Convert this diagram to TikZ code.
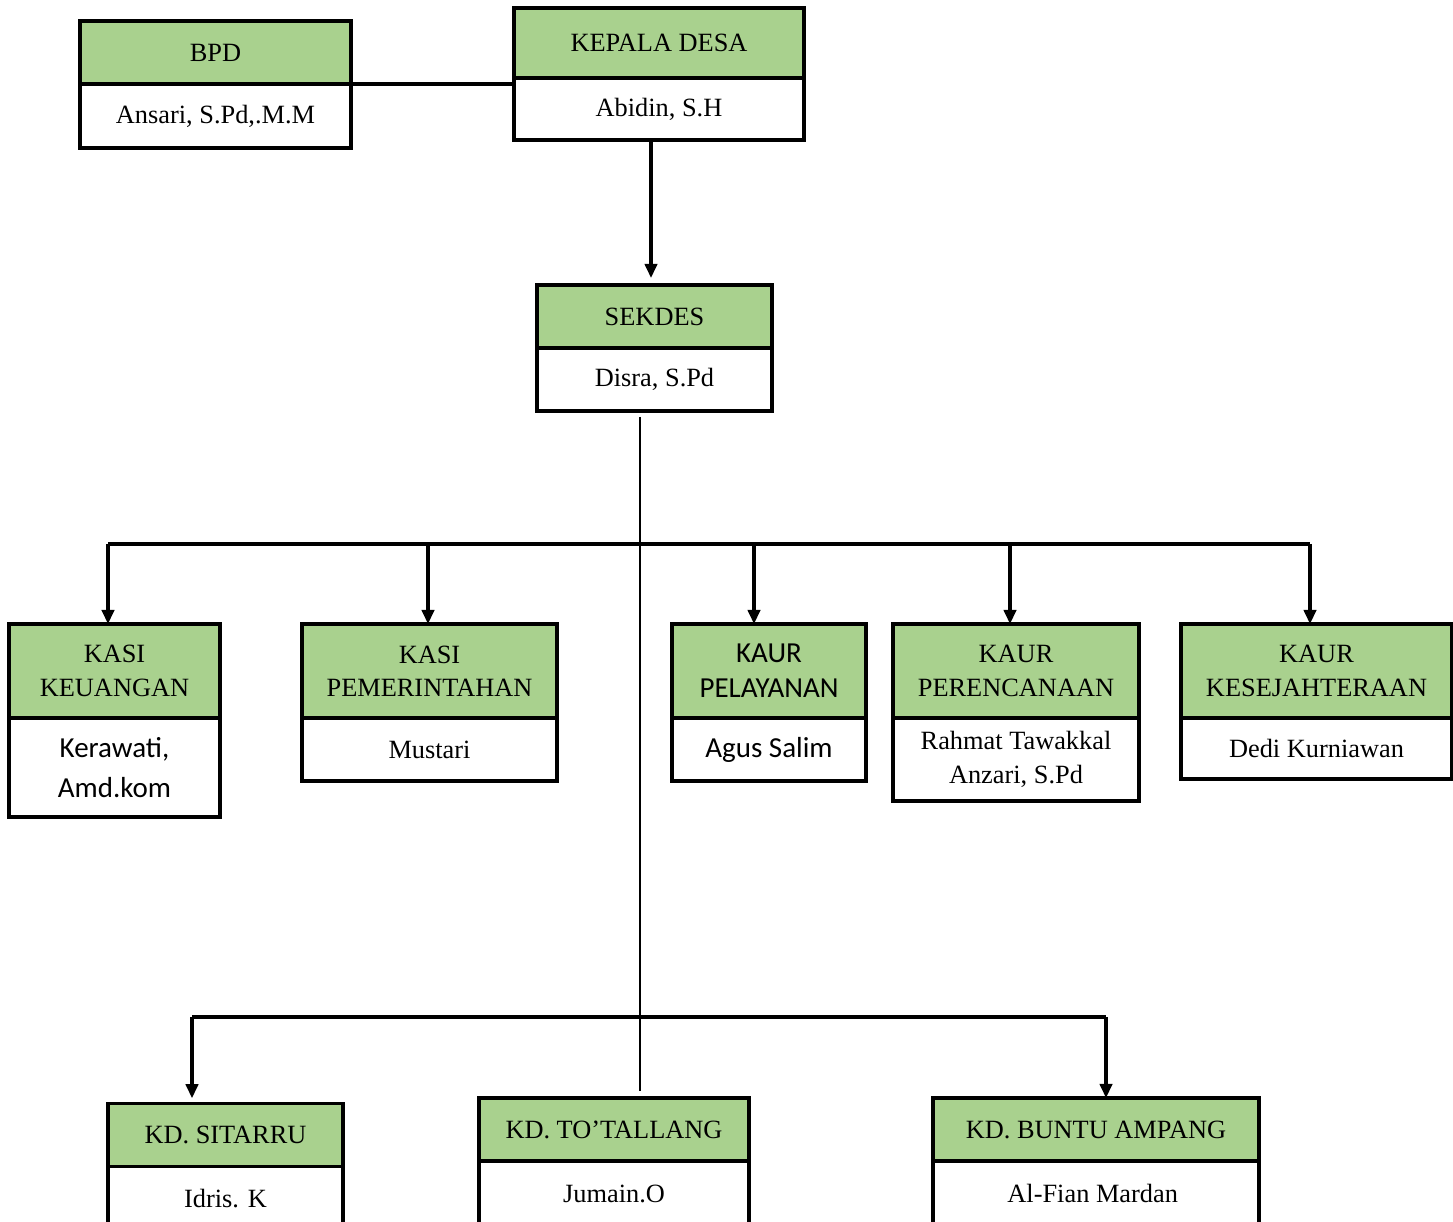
\documentclass[tikz,border=0pt]{standalone}
\usepackage{fontspec}
\setmainfont{Liberation Serif}
\newfontfamily\calibrifont{Carlito}
\usepackage{tikz}
\usetikzlibrary{positioning}
\usetikzlibrary{arrows.meta}
\definecolor{headgreen}{HTML}{A9D18E}

\begin{document}
\begin{tikzpicture}[x=0.02cm, y=-0.02cm,
     rmtext/.style={font=\fontsize{15pt}{19pt}\selectfont},
     cbtext/.style={font=\calibrifont\fontsize{16.5pt}{20pt}\selectfont},
     headbox/.style={rectangle, draw, line width=2pt, fill=headgreen, outer sep=0pt, inner sep=0pt, align=center},  % green title part of a box
     namebox/.style={rectangle, draw, line width=2pt, fill=white, outer sep=0pt, inner sep=0pt, align=center},
     conn/.style={line width=1.8pt},
     arr/.style={line width=1.8pt, -{Triangle[length=8pt,width=7pt]}}
 ]
 \useasboundingbox (0,0) rectangle (1453,1222);
 \clip (0,0) rectangle (1453,1222);
 \fill[white] (0,0) rectangle (1453,1222);

 % top row
 \node[headbox, rmtext, minimum width=5.42cm, minimum height=1.26cm] (bpd) at (215.5,52.5) {BPD};
 \node[namebox, rmtext, minimum width=5.42cm, minimum height=1.28cm, below=0mm of bpd] (bpdname) {Ansari, S.Pd,.M.M};

 \node[headbox, rmtext, minimum width=5.8cm, minimum height=1.4cm] (kades) at (659,43) {KEPALA DESA};
 \node[namebox, rmtext, minimum width=5.8cm, minimum height=1.24cm, below=0mm of kades] (kadesname) {Abidin, S.H};

 \node[headbox, rmtext, minimum width=4.7cm, minimum height=1.26cm] (sekdes) at (654.5,316.5) {SEKDES};
 \node[namebox, rmtext, minimum width=4.7cm, minimum height=1.26cm, below=0mm of sekdes] (sekdesname) {Disra, S.Pd};

 \draw[conn] (bpd.south east) -- (bpd.south east -| kades.west);
 \draw[arr, shorten >=4pt] ([xshift=-0.07cm]kadesname.south -| sekdes.north) -- ([xshift=-0.07cm]sekdes.north);

 % the trunk and the two bus lines
 \coordinate (trunktop) at (640,417);
 \coordinate (trunkbot) at (640,1091);
 \coordinate (bus) at (640,544);
 \coordinate (lowbusL) at (192,1017);
 \coordinate (lowbusR) at (1106,1017);
 \draw[line width=1.3pt] (trunktop) -- (trunkbot);

 \foreach \nm/\cx/\bw/\ax/\head/\hf/\who/\nf/\nh in {
     keu/114.5/4.22/-0.13/{KASI\\KEUANGAN}/rmtext/{Kerawati,\\[3pt]Amd.kom}/cbtext/1.98,
     pem/429.5/5.1/-0.03/{KASI\\PEMERINTAHAN}/rmtext/{Mustari}/rmtext/1.26,
     pel/769/3.88/-0.3/{KAUR\\PELAYANAN}/cbtext/{Agus Salim}/cbtext/1.26,
     per/1016/4.92/-0.12/{KAUR\\PERENCANAAN}/rmtext/{Rahmat Tawakkal\\Anzari, S.Pd}/rmtext/1.66,
     kes/1316.5/5.42/-0.13/{KAUR\\KESEJAHTERAAN}/rmtext/{Dedi Kurniawan}/rmtext/1.22
 }{
     \node[headbox, \hf, minimum width=\bw cm, minimum height=1.88cm] (\nm) at (\cx,671) {\head};
     \node[namebox, \nf, minimum width=\bw cm, minimum height=\nh cm, below=0mm of \nm] (\nm name) {\who};
     \draw[arr] ([xshift=\ax cm]bus -| \nm.north) -- ([xshift=\ax cm]\nm.north);
 }
 \draw[conn] ([xshift=-0.13cm]bus -| keu.north) -- ([xshift=-0.13cm]bus -| kes.north);

 % bottom row, cut off by the page
 \foreach \nm/\cx/\bw/\cy/\head/\who in {
     sit/225.5/4.7/1135/{KD. SITARRU}/{Idris. K},
     tot/614/5.4/1129.5/{KD. TO’TALLANG}/{Jumain.O},
     bun/1096/6.52/1129.5/{KD. BUNTU AMPANG}/{Al-Fian Mardan}
 }{
     \node[headbox, rmtext, minimum width=\bw cm, minimum height=1.26cm] (\nm) at (\cx,\cy) {\head};
     \node[namebox, rmtext, minimum width=\bw cm, minimum height=1.3cm, below=0mm of \nm] (\nm name) {\who};
 }
 \draw[conn] (lowbusL) -- (lowbusR);
 \draw[arr, shorten >=3pt] (lowbusL) -- (lowbusL |- sit.north);
 \draw[arr] (lowbusR) -- (lowbusR |- bun.north);
\end{tikzpicture}
\end{document}
